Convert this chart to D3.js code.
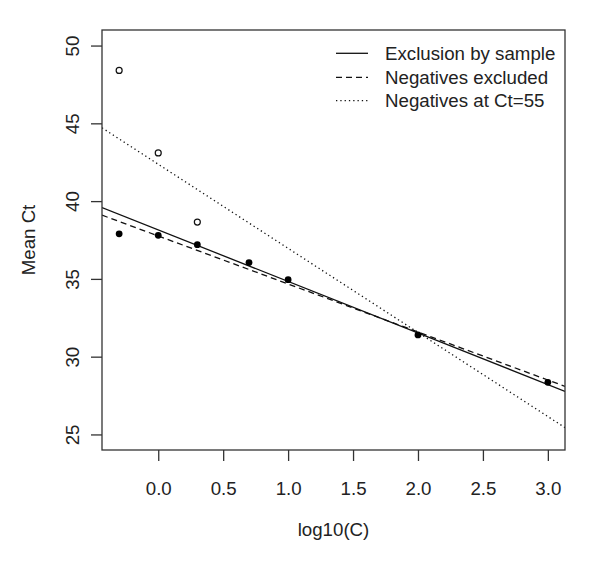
<!DOCTYPE html>
<html>
<head>
<meta charset="utf-8">
<script src="https://cdn.jsdelivr.net/npm/d3@7"></script>
<style>
  html, body { margin: 0; padding: 0; background: #fff; }
  svg { display: block; }
  text { font-family: "Liberation Sans", Arial, sans-serif; fill: #222; }
</style>
</head>
<body>
<svg id="chart" width="600" height="563"></svg>
<script>
// ---- data ----
const logConc = [-0.30103, 0, 0.30103, 0.69897, 1, 2, 3];
const meanCtExcl = [37.9, 37.8, 37.2, 36.05, 34.95, 31.4, 28.35];
const logConcNeg = [-0.30103, 0, 0.30103];
const meanCtNeg55 = [48.4, 43.1, 38.65];
const xTicks = [0, 0.5, 1, 1.5, 2, 2.5, 3];
const yTicks = [25, 30, 35, 40, 45, 50];
const fitNames = ["Exclusion by sample", "Negatives excluded", "Negatives at Ct=55"];
const fitIntercepts = [38.15, 37.76, 42.37];
const fitSlopes = [-3.315, -3.087, -5.406];
const fitDash = [null, "6,4", "1.3,3"];

// ---- layout ----
const svg = d3.select("#chart");
const L = 102, R = 565, T = 30, B = 450;
const fs = 18.7;

// R style 4% expansion of data range
const xMin = -0.30103, xMax = 3;
const xPad = (xMax - xMin) * 0.04;
const x = d3.scaleLinear().domain([xMin - xPad, xMax + xPad]).range([L, R]);
const y = d3.scaleLinear().domain([24, 51]).range([B, T]);

// clip
svg.append("clipPath").attr("id", "clip")
  .append("rect").attr("x", L).attr("y", T).attr("width", R - L).attr("height", B - T);

// fitted lines
const xd = x.domain();
fitNames.forEach((n, i) => {
  svg.append("line")
    .attr("clip-path", "url(#clip)")
    .attr("x1", x(xd[0])).attr("x2", x(xd[1]))
    .attr("y1", y(fitIntercepts[i] + fitSlopes[i] * xd[0]))
    .attr("y2", y(fitIntercepts[i] + fitSlopes[i] * xd[1]))
    .attr("stroke", "#111").attr("stroke-width", 1.3)
    .attr("stroke-dasharray", fitDash[i]);
});

// points
svg.selectAll("circle.open").data(logConcNeg).enter().append("circle")
  .attr("class", "open")
  .attr("cx", (d) => x(d)).attr("cy", (d, i) => y(meanCtNeg55[i]))
  .attr("r", 3).attr("fill", "none").attr("stroke", "#111").attr("stroke-width", 1.2);
svg.selectAll("circle.filled").data(logConc).enter().append("circle")
  .attr("class", "filled")
  .attr("cx", (d) => x(d)).attr("cy", (d, i) => y(meanCtExcl[i]))
  .attr("r", 3.4).attr("fill", "#000");

// box
svg.append("rect").attr("x", L).attr("y", T).attr("width", R - L).attr("height", B - T)
  .attr("fill", "none").attr("stroke", "#333").attr("stroke-width", 1.3);

// axes
const xAxis = svg.append("g").attr("transform", `translate(0,${B})`)
  .call(d3.axisBottom(x).tickValues(xTicks).tickFormat(d3.format(".1f")).tickSize(11).tickSizeOuter(0));
const yAxis = svg.append("g").attr("transform", `translate(${L},0)`)
  .call(d3.axisLeft(y).tickValues(yTicks).tickFormat(d3.format("d")).tickSize(11).tickSizeOuter(0));
[xAxis, yAxis].forEach(g => {
  g.select(".domain").remove();
  g.selectAll(".tick line").attr("stroke", "#333").attr("stroke-width", 1.3);
  g.selectAll(".tick text").style("font-size", fs + "px")
    .style("font-family", '"Liberation Sans", Arial, sans-serif').attr("fill", "#222");
});
xAxis.selectAll(".tick text").attr("y", 0).attr("dy", null)
  .attr("transform", "translate(0,45)");
yAxis.selectAll(".tick text").attr("x", 0).attr("dy", null)
  .attr("text-anchor", "middle")
  .attr("transform", "translate(-23,0) rotate(-90)");

// axis titles
svg.append("text").attr("x", (L + R) / 2).attr("y", 536)
  .attr("text-anchor", "middle").style("font-size", fs + "px").text("log10(C)");
svg.append("text")
  .attr("transform", `translate(35,${(T + B) / 2}) rotate(-90)`)
  .attr("text-anchor", "middle").style("font-size", fs + "px").text("Mean Ct");

// legend
const legY = [53.3, 77.3, 100.7];
fitNames.forEach((n, i) => {
  svg.append("line").attr("x1", 336).attr("x2", 368)
    .attr("y1", legY[i]).attr("y2", legY[i])
    .attr("stroke", "#111").attr("stroke-width", 1.3)
    .attr("stroke-dasharray", fitDash[i]);
  svg.append("text").attr("x", 385).attr("y", legY[i] + 6.3)
    .style("font-size", fs + "px").text(n);
});
</script>
</body>
</html>
